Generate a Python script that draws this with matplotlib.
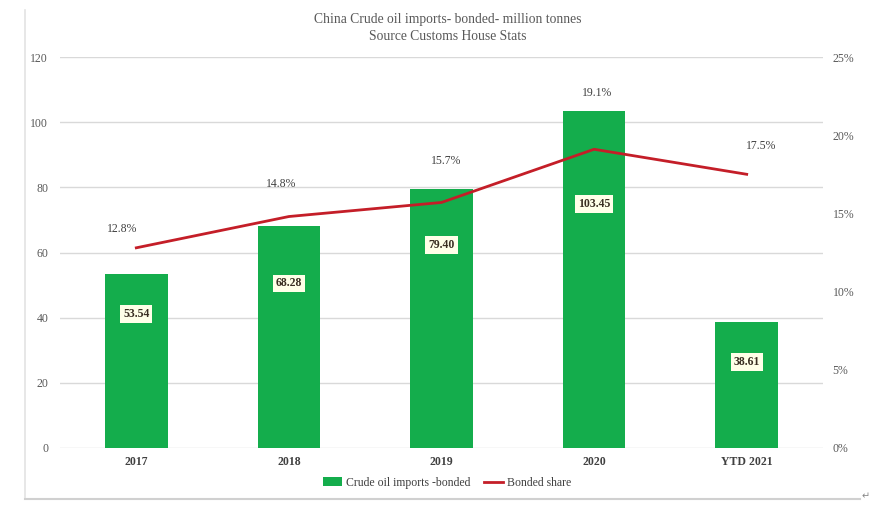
import matplotlib.pyplot as plt
from matplotlib.lines import Line2D
from matplotlib.patches import Patch
import numpy as np

years = ['2017', '2018', '2019', '2020', 'YTD 2021']
imports = [53.54, 68.28, 79.40, 103.45, 38.61]
share = [12.8, 14.8, 15.7, 19.1, 17.5]

# where the boxed value labels sit inside the bars (y in left-axis units)
label_y = [41.1, 50.5, 62.2, 74.8, 26.5]
# pixel offsets of the percent labels from their line points
pct_offsets = [(-14, 19), (-8, 33), (5, 41), (3, 56), (14, 28)]

plt.rcParams['font.family'] = ['Liberation Serif', 'DejaVu Serif']

green = '#14AD4C'
red = '#C41E28'
grey_txt = '#595959'

fig = plt.figure(figsize=(8.84, 5.16), dpi=100)
ax = fig.add_axes([60 / 884, 1 - 448 / 516, 763 / 884, 391 / 516])
ax2 = ax.twinx()

x = np.arange(len(years))
ax.bar(x, imports, width=0.41, color=green, zorder=2)
ax.set_xlim(-0.5, len(years) - 0.5)
ax.set_ylim(0, 120)
ax.set_yticks(range(0, 121, 20))
ax.yaxis.grid(True, color='#D9D9D9', lw=1, zorder=0)
ax.set_axisbelow(True)
ax.set_xticks(x)
ax.set_xticklabels(years, fontweight='bold', color='#404040', fontsize=8.5)
ax.tick_params(axis='x', length=0, pad=6)
ax.tick_params(axis='y', length=0, pad=8.5, labelcolor=grey_txt, labelsize=8.5)
for s in ax.spines.values():
    s.set_visible(False)

for xi, v, ly in zip(x, imports, label_y):
    ax.text(xi, ly, f'{v:.2f}', ha='center', va='center', fontsize=8.5,
            fontweight='bold', color='#3A2E22', zorder=4,
            bbox=dict(boxstyle='square,pad=0.25', fc='#FFFFE8', ec='none'))

share_frac = [s / 100 for s in share]
ax2.plot(x, share_frac, color=red, lw=2, zorder=3)
ax2.set_ylim(0, 0.25)
ax2.set_yticks(np.arange(0, 0.26, 0.05))
ax2.set_yticklabels([f'{int(round(t * 100))}%' for t in np.arange(0, 0.26, 0.05)])
ax2.tick_params(axis='y', length=0, pad=7, labelcolor=grey_txt, labelsize=8.5)
for s in ax2.spines.values():
    s.set_visible(False)

for xi, v, off in zip(x, share_frac, pct_offsets):
    ax2.annotate(f'{v * 100:.1f}%', (xi, v), xytext=off, textcoords='offset pixels',
                 ha='center', va='center', fontsize=8.5, color='#404040')

fig.text(0.506, 1 - 20 / 516, 'China Crude oil imports- bonded- million tonnes',
         ha='center', va='center', fontsize=9.8, color=grey_txt)
fig.text(0.506, 1 - 37 / 516, 'Source Customs House Stats',
         ha='center', va='center', fontsize=9.8, color=grey_txt)

handles = [Patch(facecolor=green, edgecolor='none'),
           Line2D([0], [0], color=red, lw=2)]
fig.legend(handles, ['Crude oil imports -bonded', 'Bonded share'],
           loc='center', bbox_to_anchor=(0.506, 1 - 483 / 516), ncol=2,
           frameon=False, fontsize=8.5, handlelength=1.6, handleheight=0.8,
           handletextpad=0.3, columnspacing=1.2,
           labelcolor='#404040')

# light frame of the pasted chart
fig.add_artist(Line2D([25 / 884, 25 / 884], [1 - 10 / 516, 1 - 499 / 516],
                      color='#E3E3E3', lw=1.2, transform=fig.transFigure))
fig.add_artist(Line2D([25 / 884, 860 / 884], [1 - 499 / 516, 1 - 499 / 516],
                      color='#D0D0D0', lw=1.5, transform=fig.transFigure))
fig.text(866 / 884, 1 - 496 / 516, '\u21b5', ha='center', va='center',
         fontsize=7, color='#888888', family='DejaVu Sans')

plt.savefig('out.png', dpi=100)
